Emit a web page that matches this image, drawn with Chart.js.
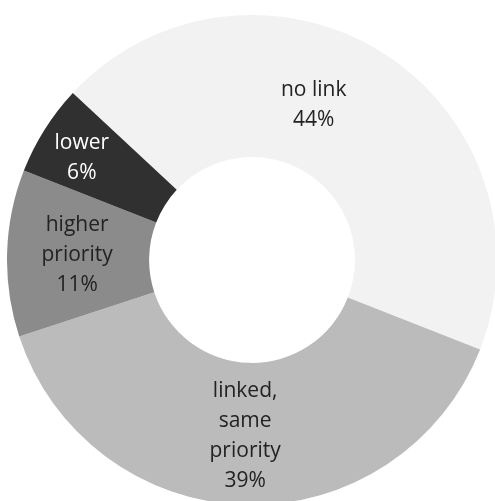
<!DOCTYPE html>
<html>
<head>
<meta charset="utf-8">
<script src="https://cdn.jsdelivr.net/npm/chart.js@4/dist/chart.umd.min.js"></script>
<style>
html,body{margin:0;padding:0;background:#fff;overflow:hidden;width:495px;height:501px;}
#wrap{position:absolute;left:7px;top:15px;width:490px;height:490px;}
</style>
</head>
<body>
<div id="wrap"><canvas id="c"></canvas></div>
<script>
// Data
const categories = ['no link', 'linked, same priority', 'higher priority', 'lower'];
const labelLines = [['no link'], ['linked,', 'same', 'priority'], ['higher', 'priority'], ['lower']];
const shares = [44, 39, 11, 6];

// Styles
const sliceColors = ['#f2f2f2', '#bbbbbb', '#8b8b8b', '#303030'];
const textColors = ['#222222', '#222222', '#222222', '#ffffff'];
const labelShift = [[-31, -8], [-2, 2], [-1, 0], [-23, -9]];

const labelPlugin = {
  id: 'sliceLabels',
  afterDatasetsDraw(chart) {
    const ctx = chart.ctx;
    const meta = chart.getDatasetMeta(0);
    const data = chart.data.datasets[0].data;
    ctx.save();
    ctx.font = '21px "Open Sans", "Liberation Sans", sans-serif';
    ctx.textAlign = 'center';
    ctx.textBaseline = 'middle';
    const lh = 30;
    meta.data.forEach((arc, i) => {
      const p = arc.getCenterPoint();
      const lines = labelLines[i].concat([data[i] + '%']);
      const x = p.x + labelShift[i][0];
      const y0 = p.y + labelShift[i][1] - (lines.length - 1) * lh / 2;
      ctx.fillStyle = textColors[i];
      lines.forEach((t, k) => ctx.fillText(t, x, y0 + k * lh));
    });
    ctx.restore();
  }
};

new Chart(document.getElementById('c'), {
  type: 'doughnut',
  data: {
    labels: categories,
    datasets: [{
      data: shares,
      backgroundColor: sliceColors,
      borderWidth: 0,
      hoverBorderWidth: 0,
      hoverOffset: 0,
      offset: 0
    }]
  },
  options: {
    responsive: true,
    maintainAspectRatio: false,
    animation: false,
    rotation: 313,
    cutout: '42%',
    layout: { padding: 0 },
    plugins: { legend: { display: false }, tooltip: { enabled: false } },
    events: []
  },
  plugins: [labelPlugin]
});
</script>
</body>
</html>
